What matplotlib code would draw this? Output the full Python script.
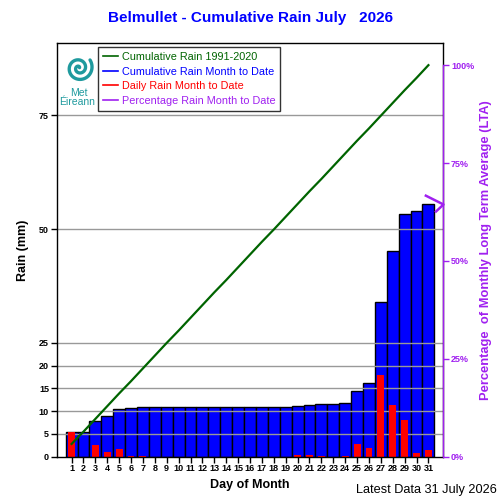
import numpy as np
import matplotlib
matplotlib.use('Agg')
import matplotlib.pyplot as plt
from matplotlib.lines import Line2D
from matplotlib.path import Path

plt.rcParams['font.family'] = ['Liberation Sans', 'DejaVu Sans']

# data
days = list(range(1, 32))
daily_rain = [5.5, 0.0, 2.5, 1.1, 1.6, 0.2, 0.2, 0.0, 0.0, 0.0,
              0.0, 0.0, 0.0, 0.0, 0.0, 0.0, 0.0, 0.0, 0.0, 0.3,
              0.4, 0.1, 0.0, 0.2, 2.8, 1.9, 17.9, 11.3, 8.1, 0.8, 1.5]
cum_rain = [5.5, 5.5, 7.9, 8.9, 10.5, 10.7, 10.9, 10.9, 10.9, 10.9,
            10.9, 10.9, 10.9, 10.9, 10.9, 10.9, 10.9, 10.9, 10.9, 11.1,
            11.4, 11.5, 11.5, 11.7, 14.4, 16.2, 33.9, 45.2, 53.2, 54.0, 55.5]
cum_lta = [2.8, 5.5, 8.3, 11.1, 13.9, 16.6, 19.4, 22.2, 25.0, 27.7,
           30.5, 33.3, 36.1, 38.8, 41.6, 44.4, 47.2, 49.9, 52.7, 55.5,
           58.3, 61.0, 63.8, 66.6, 69.4, 72.1, 74.9, 77.7, 80.5, 83.2, 86.0]
lta_total = 86.0
left_ticks = [0, 5, 10, 15, 20, 25, 50, 75]
pct_ticks = [0, 25, 50, 75, 100]
pct_labels = ['0%', '25%', '50%', '75%', '100%']

BLUE = '#0000ff'
RED = '#ff0000'
GREEN = '#006400'
PURPLE = '#a020f0'
TEAL = '#1f9a9e'

fig = plt.figure(figsize=(5, 5), dpi=100)
ax = fig.add_axes([0.1146, 0.0866, 0.7708, 0.8268])
ymax = 90.8
ax.set_xlim(-0.2, 32.2)
ax.set_ylim(0, ymax)

ax.bar(days, cum_rain, width=1.0, color=BLUE, edgecolor='black', linewidth=1.0, zorder=1)
for t in left_ticks[1:]:
    ax.axhline(t, color='#999999', lw=1.0, zorder=1.5)
ax.bar(days, daily_rain, width=0.58, color=RED, linewidth=0, zorder=2)
ax.plot(days, cum_lta, color=GREEN, lw=1.6, zorder=3)

ax.set_xticks(days)
ax.set_xticklabels([str(d) for d in days], fontsize=6.5, fontweight='bold')
ax.set_yticks(left_ticks)
ax.set_yticklabels([str(t) for t in left_ticks], fontsize=6.5, fontweight='bold')
ax.tick_params(axis='both', direction='out', length=4, width=1, pad=2)
ax.tick_params(axis='x', length=4, pad=1.5)
for s in ax.spines.values():
    s.set_linewidth(1.0)
ax.set_xlabel('Day of Month', fontsize=9, fontweight='bold', labelpad=4)
ax.set_ylabel('Rain (mm)', fontsize=9, fontweight='bold', labelpad=7)

ax2 = ax.twinx()
ax2.set_ylim(0, ymax / lta_total * 100)
ax2.set_yticks(pct_ticks)
ax2.set_yticklabels(pct_labels, fontsize=6.5, fontweight='bold', color=PURPLE)
ax2.tick_params(axis='y', colors=PURPLE, direction='out', length=4, width=1, pad=2)
ax2.spines['right'].set_color(PURPLE)
ax2.spines['right'].set_bounds(0, 100)
ax2.spines['right'].set_linewidth(1.0)
for k in ['left', 'top', 'bottom']:
    ax2.spines[k].set_visible(False)
ax2.set_ylabel('Percentage  of Monthly Long Term Average (LTA)', fontsize=9.3,
               fontweight='bold', color=PURPLE, labelpad=4)

pct_now = cum_rain[-1] / lta_total * 100
arrow = Path([(-1.0, 0.5), (0.0, 0.0), (-0.45, -0.42)], [Path.MOVETO, Path.LINETO, Path.LINETO])
ax2.plot([32.2], [pct_now], marker=arrow, markersize=27, color=PURPLE, mew=1.8,
         fillstyle='none', clip_on=False, zorder=5)

handles = [Line2D([], [], color=GREEN, lw=1.2), Line2D([], [], color=BLUE, lw=1.2),
           Line2D([], [], color=RED, lw=1.2), Line2D([], [], color=PURPLE, lw=1.2)]
labels = ['Cumulative Rain 1991-2020', 'Cumulative Rain Month to Date',
          'Daily Rain Month to Date', 'Percentage Rain Month to Date']
leg = fig.legend(handles, labels, loc='upper left', bbox_to_anchor=(0.1966, 0.9054),
                 fontsize=7.8, frameon=True, fancybox=False, edgecolor='black',
                 handlelength=1.4, handletextpad=0.3, labelspacing=0.42,
                 borderpad=0.45, borderaxespad=0)
leg.get_frame().set_linewidth(1.0)
for txt, h in zip(leg.get_texts(), handles):
    txt.set_color(h.get_color())

# Met Eireann logo
lax = fig.add_axes([0.128, 0.834, 0.06, 0.06])
th = np.linspace(0.6, 4.2 * np.pi, 300)
r = th / (4.2 * np.pi)
lax.plot(r * np.cos(th), r * np.sin(th), color=TEAL, lw=2.4, solid_capstyle='round')
lax.set_xlim(-1.1, 1.1)
lax.set_ylim(-1.1, 1.1)
lax.set_aspect('equal')
lax.axis('off')
fig.text(0.157, 0.814, 'Met', color=TEAL, fontsize=7.5, ha='center', va='center')
fig.text(0.155, 0.796, 'Éireann', color=TEAL, fontsize=7.5, ha='center', va='center')

fig.text(0.5, 0.964, 'Belmullet - Cumulative Rain July   2026', color=BLUE,
         fontsize=11, fontweight='bold', ha='center', va='center')
fig.text(0.994, 0.02, 'Latest Data 31 July 2026', fontsize=9.2, ha='right', va='center')

fig.savefig('out.png', dpi=100)
